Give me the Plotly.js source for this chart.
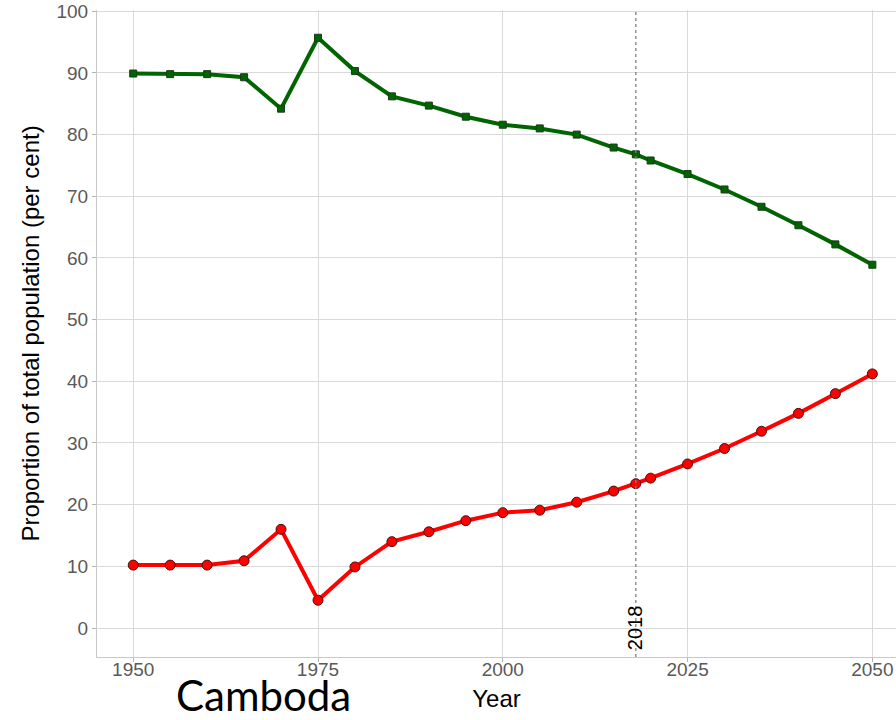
<!DOCTYPE html>
<html><head><meta charset="utf-8">
<script src="https://cdn.plot.ly/plotly-3.0.1.min.js"></script>
<style>html,body{margin:0;padding:0;background:#fff}</style>
</head><body>
<div id="chart" style="width:896px;height:720px"></div>
<script>
const years = [1950,1955,1960,1965,1970,1975,1980,1985,1990,1995,2000,2005,2010,2015,2018,2020,2025,2030,2035,2040,2045,2050];
const rural = [89.9,89.8,89.8,89.3,84.2,95.7,90.3,86.2,84.7,82.9,81.6,81.0,80.0,77.9,76.8,75.8,73.6,71.1,68.3,65.3,62.2,58.9];
const urban = [10.2,10.2,10.2,10.9,16.0,4.5,9.9,14.0,15.6,17.4,18.7,19.1,20.4,22.2,23.4,24.3,26.6,29.1,31.9,34.8,38.0,41.2];
const markYear = 2018;
const countryLabel = "Camboda";

const traces = [
  {x: years, y: rural, type: 'scatter', mode: 'lines+markers',
   line: {color: '#006400', width: 4},
   marker: {symbol: 'square', size: 7, color: '#006400', line: {color: '#1a3a1a', width: 1}},
   showlegend: false, hoverinfo: 'skip'},
  {x: years, y: urban, type: 'scatter', mode: 'lines+markers',
   line: {color: '#ff0000', width: 4},
   marker: {symbol: 'circle', size: 10, color: '#ff0000', line: {color: '#4a1010', width: 1}},
   showlegend: false, hoverinfo: 'skip'}
];

const layout = {
  width: 896, height: 720,
  margin: {l: 97, r: 0, t: 10, b: 63},
  paper_bgcolor: '#ffffff', plot_bgcolor: '#ffffff',
  font: {family: 'Liberation Sans, Arial, sans-serif', color: '#4d4d4d'},
  xaxis: {
    range: [1945.1, 2053.2], tickvals: [1950,1975,2000,2025,2050],
    showgrid: true, gridcolor: '#d9d9d9', gridwidth: 1, zeroline: false,
    ticks: 'outside', ticklen: 4, tickcolor: '#b3b3b3',
    ticklabelstandoff: -9,
    showline: true, linecolor: '#c8c8c8', linewidth: 1, mirror: false,
    tickfont: {size: 19, color: '#595959'},
    title: {text: 'Year', font: {size: 24, color: '#000000'}, standoff: 11}
  },
  yaxis: {
    range: [-4.7, 100.2], tickvals: [0,10,20,30,40,50,60,70,80,90,100],
    showgrid: true, gridcolor: '#d9d9d9', gridwidth: 1, zeroline: false,
    ticks: 'outside', ticklen: 4, tickcolor: '#b3b3b3',
    showline: true, linecolor: '#c8c8c8', linewidth: 1,
    tickfont: {size: 19, color: '#595959'},
    title: {text: 'Proportion of total population (per cent)', font: {size: 24, color: '#000000'}, standoff: 10}
  },
  shapes: [
    {type: 'line', xref: 'x', yref: 'paper', x0: markYear, x1: markYear, y0: 0, y1: 1,
     line: {color: '#7f7f7f', width: 1.3, dash: 'dot'}}
  ],
  annotations: [
    {x: markYear, xref: 'x', y: 0.008, yref: 'paper', text: String(markYear), showarrow: false,
     textangle: -90, xanchor: 'center', yanchor: 'bottom', xshift: -1,
     font: {size: 20, color: '#000000', family: 'Liberation Sans, Arial, sans-serif'}},
    {x: 0.2078, xref: 'paper', y: 0, yref: 'paper', yshift: -38, text: countryLabel, showarrow: false,
     xanchor: 'center', yanchor: 'middle',
     font: {size: 42, color: '#000000', family: 'Lato, Open Sans, sans-serif'}}
  ]
};
Plotly.newPlot('chart', traces, layout, {displayModeBar: false, staticPlot: true});
</script>
</body></html>
